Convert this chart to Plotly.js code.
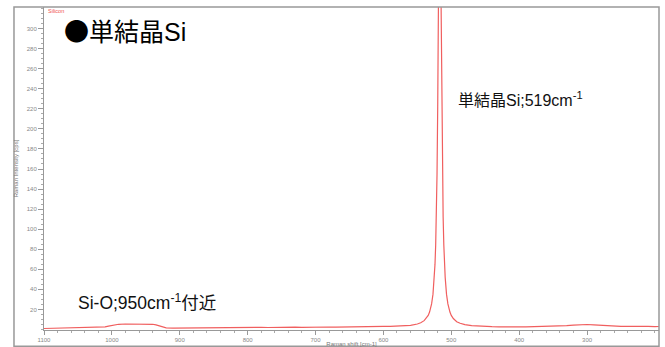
<!DOCTYPE html>
<html>
<head>
<meta charset="utf-8">
<script src="https://cdn.plot.ly/plotly-3.0.1.min.js"></script>
<style>html,body{margin:0;padding:0;background:#fff;}#chart{width:665px;height:347px;}</style>
</head>
<body>
<div id="chart"></div>
<script>
// Raman shift (cm-1) and intensity (cps)
const ramanShift = [
  1100,1090,1080,1070,1060,1050,1040,1030,1020,1010,1005,1000,995,990,980,970,960,950,945,940,935,930,925,920,910,
  900,890,880,870,860,850,840,830,820,810,800,790,780,770,760,750,740,730,720,710,700,690,680,670,660,650,640,630,620,610,
  600,590,580,570,560,550,545,540,537,534,532,529,527,525,524,523,522,521,520,519,518,517,
  516,515,514,513,512,511,510,509,507,505,502,500,497,492,487,480,470,460,450,440,
  430,420,410,400,390,380,370,360,350,340,330,320,310,300,290,280,270,260,250,240,230,220,210,200,194
];
const intensity = [
  1.0,1.2,1.0,1.3,1.4,1.3,1.6,1.8,2.0,2.6,3.4,4.2,4.8,5.2,5.5,5.6,5.5,5.7,5.4,5.2,4.6,3.6,2.5,1.7,1.4,
  1.5,1.4,1.6,1.5,1.7,1.6,1.8,1.7,1.9,1.8,2.0,1.9,2.1,2.0,2.2,2.1,2.2,2.3,2.2,2.4,2.3,2.4,2.5,2.4,2.6,2.6,2.7,2.8,2.9,3.0,
  3.1,3.2,3.4,3.6,4.2,5.5,6.7,8.8,10.9,14.0,17.4,25.5,35.0,51.7,64.9,83.9,112,155,222,323,445,510,
  445,323,222,155,112,84,65,52,35,25.5,17.4,14.0,10.9,7.8,6.2,4.8,3.8,3.3,3.0,2.8,
  2.7,2.9,2.6,2.7,2.6,2.8,2.7,2.9,3.0,3.3,3.8,4.4,4.8,5.0,4.7,4.2,3.7,3.4,3.2,3.1,3.3,3.0,3.2,2.9,3.0
];
const xTicks = [1100,1000,900,800,700,600,500,400,300];
const yTicks = [20,40,60,80,100,120,140,160,180,200,220,240,260,280,300];

const trace = {
  x: ramanShift, y: intensity, type: 'scatter', mode: 'lines',
  line: {color: 'rgb(240,95,95)', width: 1.2}, hoverinfo: 'skip', showlegend: false
};

const labelFamily = 'Liberation Sans, Noto Sans CJK JP, sans-serif';
const tickFont = {family: 'Liberation Sans, Arial, sans-serif', size: 6, color: '#888'};
const layout = {
  width: 665, height: 347,
  margin: {l: 44, r: 6, t: 7, b: 17, pad: 0},
  paper_bgcolor: '#fff', plot_bgcolor: '#fff',
  showlegend: false,
  xaxis: {
    range: [1100, 194], tickvals: xTicks, ticktext: xTicks.map(String),
    ticks: 'outside', ticklen: 4, tickcolor: '#999', tickwidth: 1,
    showline: true, linecolor: '#999', linewidth: 1, mirror: false,
    showgrid: false, zeroline: false, tickfont: tickFont,
    minor: {dtick: 20, ticks: 'outside', ticklen: 2, tickcolor: '#aaa', showgrid: false},
    title: {text: 'Raman shift [cm-1]', font: {family: 'Liberation Sans, Arial, sans-serif', size: 6, color: '#777'}, standoff: 2}
  },
  yaxis: {
    range: [-0.5, 321.5], tickvals: yTicks, ticktext: yTicks.map(String),
    ticks: 'outside', ticklen: 5, tickcolor: '#999', tickwidth: 1,
    showline: true, linecolor: '#999', linewidth: 1,
    showgrid: false, zeroline: false, tickfont: tickFont,
    minor: {dtick: 5, ticks: 'outside', ticklen: 2, tickcolor: '#aaa', showgrid: false},
    title: {text: 'Raman Intensity [cps]', font: {family: 'Liberation Sans, Arial, sans-serif', size: 6, color: '#777'}, standoff: 7}
  },
  shapes: [
    {type: 'rect', xref: 'paper', yref: 'paper', x0: -0.0488, x1: 1, y0: -0.05, y1: 1,
     line: {color: '#999', width: 1.5}, fillcolor: 'rgba(0,0,0,0)', layer: 'above'}
  ],
  annotations: [
    {xref: 'paper', yref: 'paper', x: 0.003, y: 0.988, xanchor: 'left', yanchor: 'middle', showarrow: false,
     text: 'Silicon', font: {family: 'Liberation Sans, Arial, sans-serif', size: 5.5, color: '#f05050'}},
    {xref: 'paper', yref: 'paper', x: 0.030, y: 0.928, xanchor: 'left', yanchor: 'middle', showarrow: false,
     text: '<span style="font-family:\'Noto Sans CJK JP\'">●</span>単結晶Si', font: {family: labelFamily, size: 25, color: '#000'}},
    {xref: 'paper', yref: 'paper', x: 0.670, y: 0.715, xanchor: 'left', yanchor: 'middle', showarrow: false,
     text: '単結晶Si;519cm<sup>-1</sup>', font: {family: labelFamily, size: 16, color: '#111'}},
    {xref: 'paper', yref: 'paper', x: 0.052, y: 0.088, xanchor: 'left', yanchor: 'middle', showarrow: false,
     text: 'Si-O;950cm<sup>-1</sup>付近', font: {family: labelFamily, size: 17.5, color: '#111'}}
  ]
};

Plotly.newPlot('chart', [trace], layout, {displayModeBar: false, staticPlot: true});
</script>
</body>
</html>
